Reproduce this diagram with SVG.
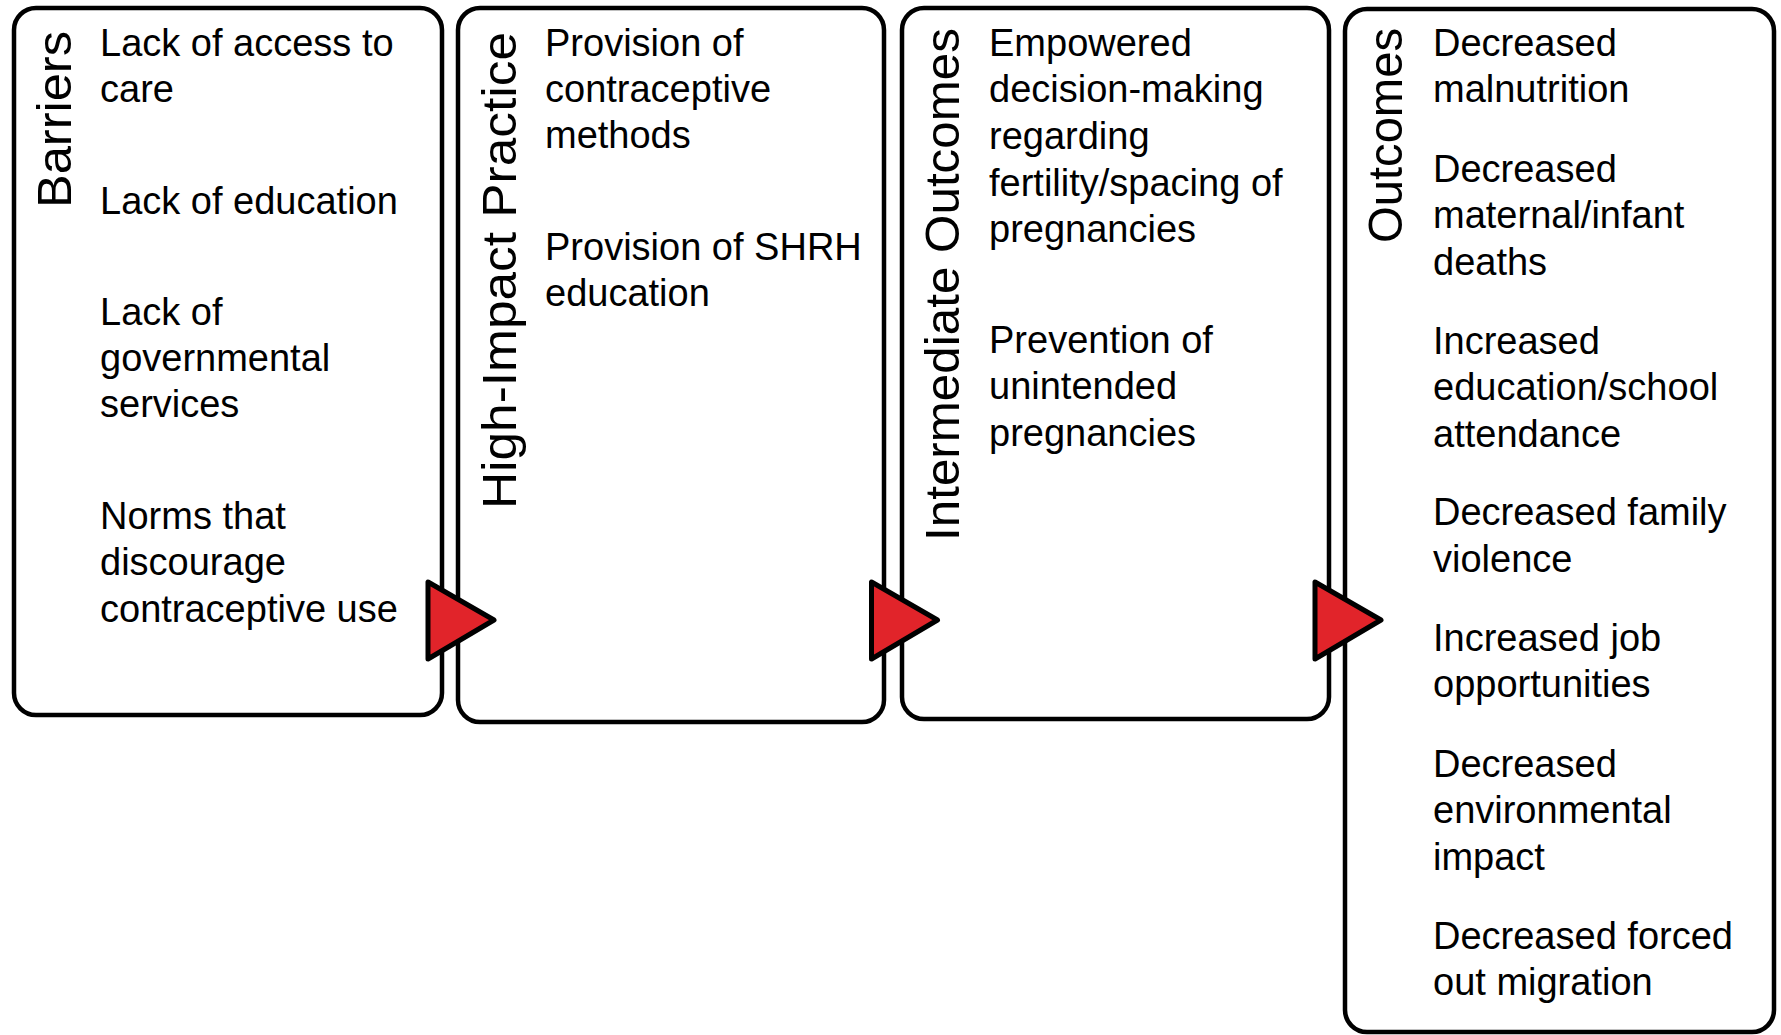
<svg xmlns="http://www.w3.org/2000/svg" width="1781" height="1035" viewBox="0 0 1781 1035">
<style>
.box{fill:#ffffff;stroke:#000000;stroke-width:4.5}
.hdr{font-family:"Liberation Sans",Arial,sans-serif;font-size:49px;fill:#000000}
.txt{font-family:"Liberation Sans",Arial,sans-serif;font-size:38px;fill:#000000}
.arr{fill:#E1242A;stroke:#000000;stroke-width:5;stroke-linejoin:round}
</style>
<rect width="1781" height="1035" fill="#ffffff"/>
<g id="barriers">
<rect class="box" x="14" y="8" width="428" height="707" rx="22" ry="22"/>
<text class="hdr" transform="translate(71,208) rotate(-90)" textLength="177" lengthAdjust="spacingAndGlyphs">Barriers</text>
<g transform="translate(0,2)">
<text class="txt" x="100" y="54">Lack of access to</text>
<text class="txt" x="100" y="100">care</text>
<text class="txt" x="100" y="212">Lack of education</text>
<text class="txt" x="100" y="323">Lack of</text>
<text class="txt" x="100" y="369">governmental</text>
<text class="txt" x="100" y="415">services</text>
<text class="txt" x="100" y="527">Norms that</text>
<text class="txt" x="100" y="573">discourage</text>
<text class="txt" x="100" y="620">contraceptive use</text>
</g>
</g>
<g id="high-impact-practice">
<rect class="box" x="458" y="8" width="426" height="714" rx="22" ry="22"/>
<text class="hdr" transform="translate(516,509) rotate(-90)" textLength="477" lengthAdjust="spacingAndGlyphs">High-Impact Practice</text>
<g transform="translate(0,2)">
<text class="txt" x="545" y="54">Provision of</text>
<text class="txt" x="545" y="100">contraceptive</text>
<text class="txt" x="545" y="146">methods</text>
<text class="txt" x="545" y="258">Provision of SHRH</text>
<text class="txt" x="545" y="304">education</text>
</g>
</g>
<g id="intermediate-outcomes">
<rect class="box" x="902" y="8" width="427" height="711" rx="22" ry="22"/>
<text class="hdr" transform="translate(959,541) rotate(-90)" textLength="513" lengthAdjust="spacingAndGlyphs">Intermediate Outcomes</text>
<g transform="translate(0,2)">
<text class="txt" x="989" y="54">Empowered</text>
<text class="txt" x="989" y="100">decision-making</text>
<text class="txt" x="989" y="147">regarding</text>
<text class="txt" x="989" y="194">fertility/spacing of</text>
<text class="txt" x="989" y="240">pregnancies</text>
<text class="txt" x="989" y="351">Prevention of</text>
<text class="txt" x="989" y="397">unintended</text>
<text class="txt" x="989" y="444">pregnancies</text>
</g>
</g>
<g id="outcomes">
<rect class="box" x="1345" y="9" width="429" height="1023" rx="22" ry="22"/>
<text class="hdr" transform="translate(1402,243) rotate(-90)" textLength="215" lengthAdjust="spacingAndGlyphs">Outcomes</text>
<g transform="translate(0,2)">
<text class="txt" x="1433" y="54">Decreased</text>
<text class="txt" x="1433" y="100">malnutrition</text>
<text class="txt" x="1433" y="180">Decreased</text>
<text class="txt" x="1433" y="226">maternal/infant</text>
<text class="txt" x="1433" y="273">deaths</text>
<text class="txt" x="1433" y="352">Increased</text>
<text class="txt" x="1433" y="398">education/school</text>
<text class="txt" x="1433" y="445">attendance</text>
<text class="txt" x="1433" y="523">Decreased family</text>
<text class="txt" x="1433" y="570">violence</text>
<text class="txt" x="1433" y="649">Increased job</text>
<text class="txt" x="1433" y="695">opportunities</text>
<text class="txt" x="1433" y="775">Decreased</text>
<text class="txt" x="1433" y="821">environmental</text>
<text class="txt" x="1433" y="868">impact</text>
<text class="txt" x="1433" y="947">Decreased forced</text>
<text class="txt" x="1433" y="993">out migration</text>
</g>
</g>
<g id="connectors">
<polygon class="arr" points="428,582 428,659 494,620"/>
<polygon class="arr" points="871.5,582 871.5,659 937.5,620"/>
<polygon class="arr" points="1315,582 1315,659 1381,620"/>
</g>
</svg>
